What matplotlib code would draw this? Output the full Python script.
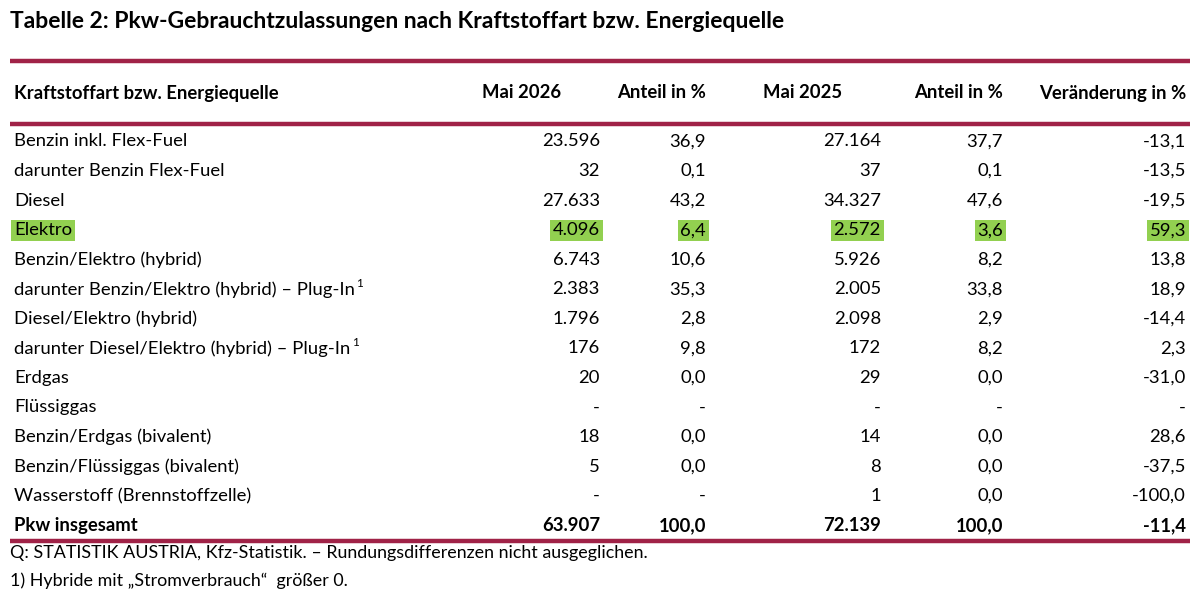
import matplotlib
matplotlib.use("Agg")
import matplotlib.pyplot as plt

plt.rcParams['font.family'] = ['Lato', 'DejaVu Sans']

title = "Tabelle 2: Pkw-Gebrauchtzulassungen nach Kraftstoffart bzw. Energiequelle"
headers = ["Kraftstoffart bzw. Energiequelle", "Mai 2026", "Anteil in %", "Mai 2025", "Anteil in %", "Veränderung in %"]
categories = [
    "Benzin inkl. Flex-Fuel",
    "darunter Benzin Flex-Fuel",
    "Diesel",
    "Elektro",
    "Benzin/Elektro (hybrid)",
    "darunter Benzin/Elektro (hybrid) – Plug-In",
    "Diesel/Elektro (hybrid)",
    "darunter Diesel/Elektro (hybrid) – Plug-In",
    "Erdgas",
    "Flüssiggas",
    "Benzin/Erdgas (bivalent)",
    "Benzin/Flüssiggas (bivalent)",
    "Wasserstoff (Brennstoffzelle)",
    "Pkw insgesamt",
]
mai_2026 = ["23.596", "32", "27.633", "4.096", "6.743", "2.383", "1.796", "176", "20", "-", "18", "5", "-", "63.907"]
anteil_2026 = ["36,9", "0,1", "43,2", "6,4", "10,6", "35,3", "2,8", "9,8", "0,0", "-", "0,0", "0,0", "-", "100,0"]
mai_2025 = ["27.164", "37", "34.327", "2.572", "5.926", "2.005", "2.098", "172", "29", "-", "14", "8", "1", "72.139"]
anteil_2025 = ["37,7", "0,1", "47,6", "3,6", "8,2", "33,8", "2,9", "8,2", "0,0", "-", "0,0", "0,0", "0,0", "100,0"]
veraenderung = ["-13,1", "-13,5", "-19,5", "59,3", "13,8", "18,9", "-14,4", "2,3", "-31,0", "-", "28,6", "-37,5", "-100,0", "-11,4"]
footnote_rows = [5, 7]
highlight_rows = [3]
notes = [
    "Q: STATISTIK AUSTRIA, Kfz-Statistik. – Rundungsdifferenzen nicht ausgeglichen.",
    "1) Hybride mit „Stromverbrauch“  größer 0.",
]

RED = "#A02247"
GREEN = "#92D050"
FS = 13.3

fig = plt.figure(figsize=(12, 5.98), dpi=100)
ax = fig.add_axes([0, 0, 1, 1])
ax.set_xlim(0, 1200)
ax.set_ylim(598, 0)
ax.axis("off")

ax.text(10, 22, title, fontsize=16.5, fontweight="bold", va="center", ha="left")

for y in (60.5, 123.5, 541):
    ax.plot([10, 1190], [y, y], color=RED, lw=3.2, solid_capstyle="butt")

# header
header_x = [14, 561, 706, 842, 1003, 1186]
header_ha = ["left", "right", "right", "right", "right", "right"]
for h, x, ha in zip(headers, header_x, header_ha):
    ax.text(x, 93, h, fontsize=FS, fontweight="bold", ha=ha, va="center")

col_right = [600, 706, 881, 1003, 1186]
cols = [mai_2026, anteil_2026, mai_2025, anteil_2025, veraenderung]
y0, dy = 141.5, 29.55
n = len(categories)
sup_texts = []
for i, cat in enumerate(categories):
    y = y0 + i * dy
    bold = "bold" if i == n - 1 else "normal"
    hl = i in highlight_rows
    bbox = dict(boxstyle="square,pad=0.14", fc=GREEN, ec="none") if hl else None
    t = ax.text(14, y, cat, fontsize=FS, fontweight=bold, ha="left", va="center", bbox=bbox)
    if i in footnote_rows:
        sup_texts.append((t, y))
    for col, x in zip(cols, col_right):
        val = col[i]
        b = bbox if (hl and val != "-") else None
        ax.text(x, y, val, fontsize=FS, fontweight=bold, ha="right", va="center", bbox=b)

ax.text(10, 553, notes[0], fontsize=12.9, ha="left", va="center")
ax.text(10, 581, notes[1], fontsize=12.9, ha="left", va="center")

fig.canvas.draw()
renderer = fig.canvas.get_renderer()
inv = ax.transData.inverted()
for t, y in sup_texts:
    ext = t.get_window_extent(renderer)
    xr, _ = inv.transform((ext.x1, ext.y1))
    ax.text(xr + 1.5, y - 6, "1", fontsize=8.5, ha="left", va="center")

fig.savefig("out.png", dpi=100, facecolor="white")
